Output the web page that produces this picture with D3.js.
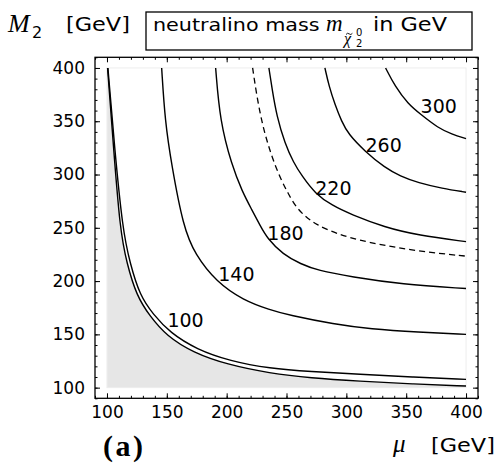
<!DOCTYPE html>
<html>
<head>
<meta charset="utf-8">
<script src="https://cdn.jsdelivr.net/npm/d3@7"></script>
<style>
  body { margin: 0; background: #fff; }
  text { font-family: "DejaVu Sans", sans-serif; fill: #000; }
  .serif { font-family: "Liberation Serif", "DejaVu Serif", serif; }
</style>
</head>
<body>
<svg id="chart" width="502" height="469"></svg>
<script>
// traced contour lines, points are [mu, M2] in GeV
var cLow = [[100.5,400],[105.3,328],[110.9,248],[116.5,217],[124.8,186],[135.9,167],[149.9,148.4],[172.1,132.8],[200,121.8],[236,113.5],[270,109],[311,106],[355,103.5],[400,101.5]];
var c100 = [[100.8,400],[106.1,328],[113.1,248],[119.2,217],[127.6,186],[138.7,168.7],[152.6,151.6],[174.9,135.9],[202.8,125],[236,118],[270,115],[311,112.5],[355,110],[400,107.8]];
var c140 = [[145.7,400],[148.5,350],[154,309],[163.7,251],[173.5,225],[191.6,199],[213.9,182],[236,173],[252,168],[290,159.5],[320,155],[360,152],[400,150]];
var c180 = [[190.8,400],[194.4,350],[204.2,309],[213,284],[221,267],[228,252],[234,240],[247,225],[262,216],[276,210],[304,204],[346,197],[400,193]];
var cDash = [[221.7,400],[225,375],[229.2,350],[234.5,328],[240.3,309],[246,294],[251,283],[257,271],[265,261],[275,253],[290,245],[318,236],[360,228],[400,223.4]];
var c220 = [[235.3,400],[238,380],[241.8,355],[248.7,329],[256,311],[262.7,299],[274,282],[288,271],[304,262.5],[332,250.5],[360,243],[400,237]];
var c260 = [[282.1,400],[285.5,383],[290.5,365.6],[296,350],[301.6,338],[315.5,321.8],[332.2,306.3],[345,298.5],[360,292.2],[380,287],[400,283.4]];
var c300 = [[332.8,400],[340.6,382.8],[351.7,366],[361.5,357],[376.8,343.5],[388,338],[400,333.7]];

// contour labels: value and where it sits [mu, M2]
var labelValues = [100, 140, 180, 220, 260, 300];
var labelPoints = [[150.5,156.5],[193,199.7],[234,239],[274,281],[316,321.5],[362,358]];

var majorTicks = [100, 150, 200, 250, 300, 350, 400];
var minorTicks = d3.range(90, 411, 10);

var svg = d3.select('#chart');

var x = d3.scaleLinear().domain([90, 410]).range([95, 478]);
var y = d3.scaleLinear().domain([90, 410]).range([398.3, 57.3]);

var line = d3.line()
    .x(function(d){ return x(d[0]); })
    .y(function(d){ return y(d[1]); })
    .curve(d3.curveBasis);

// grey excluded region under the lowest line
var greyPath = line(cLow) + 'L' + x(400) + ',' + y(100) + 'L' + x(100) + ',' + y(100) + 'L' + x(100) + ',' + y(400) + 'Z';
svg.append('path').attr('d', greyPath).attr('fill', '#e6e6e6');

// faint border of the computed region
svg.append('rect')
    .attr('x', x(100)).attr('y', y(400))
    .attr('width', x(400) - x(100)).attr('height', y(100) - y(400))
    .attr('fill', 'none').attr('stroke', '#ededed').attr('stroke-width', 1);

var solid = [cLow, c100, c140, c180, c220, c260, c300];
svg.selectAll('path.contour').data(solid).enter().append('path')
    .attr('class', 'contour')
    .attr('d', line)
    .attr('fill', 'none').attr('stroke', '#000').attr('stroke-width', 1.4);

svg.append('path').attr('d', line(cDash))
    .attr('fill', 'none').attr('stroke', '#000').attr('stroke-width', 1.3)
    .attr('stroke-dasharray', '6,4');

svg.selectAll('text.clabel').data(labelValues).enter().append('text')
    .attr('class', 'clabel')
    .attr('x', function(d, i){ return x(labelPoints[i][0]); })
    .attr('y', function(d, i){ return y(labelPoints[i][1]); })
    .style('font-size', '19px')
    .text(function(d){ return d; });

// ticks point inward on all four sides, labels only left and bottom
var sides = [
  {make: function(){ return d3.axisBottom(x); }, at: 'translate(0,398.3)', pad: 8},
  {make: function(){ return d3.axisTop(x); },    at: 'translate(0,57.3)',  pad: 0},
  {make: function(){ return d3.axisLeft(y); },   at: 'translate(95,0)',    pad: 10},
  {make: function(){ return d3.axisRight(y); },  at: 'translate(478,0)',   pad: 0}
];
sides.forEach(function(s){
  var gMinor = svg.append('g').attr('transform', s.at)
      .call(s.make().tickValues(minorTicks).tickSize(-2.5).tickFormat(''));
  gMinor.select('.domain').remove();
  gMinor.selectAll('text').remove();

  var gMajor = svg.append('g').attr('transform', s.at)
      .call(s.make().tickValues(majorTicks).tickSize(-5).tickPadding(s.pad).tickFormat(d3.format('d')));
  gMajor.select('.domain').remove();
  if(s.pad === 0) gMajor.selectAll('text').remove();
  gMajor.selectAll('text')
      .style('font-size', '17px')
      .style('font-family', '"DejaVu Sans", sans-serif')
      .attr('fill', '#000');
});
svg.selectAll('.tick line').attr('stroke', '#000').attr('stroke-width', 1);

svg.append('rect')
    .attr('x', 95).attr('y', 57.3).attr('width', 478 - 95).attr('height', 398.3 - 57.3)
    .attr('fill', 'none').attr('stroke', '#000').attr('stroke-width', 1.3);

// sans text in the original is a little wider than DejaVu, stretch it
function wideText(px, py, str, size){
  return svg.append('text')
      .attr('transform', 'translate(' + px + ',' + py + ') scale(1.12,1)')
      .style('font-size', size + 'px')
      .text(str);
}

// axis titles
svg.append('text').attr('class', 'serif').attr('x', 8).attr('y', 32)
    .style('font-size', '26px').style('font-style', 'italic').text('M');
svg.append('text').attr('x', 32).attr('y', 38).style('font-size', '16px').text('2');
wideText(66, 31, '[GeV]', 20);

svg.append('text').attr('class', 'serif').attr('x', 393).attr('y', 452)
    .style('font-size', '25px').style('font-style', 'italic').text('μ');
wideText(431, 452, '[GeV]', 20);

svg.append('text').attr('class', 'serif').attr('x', 103).attr('y', 456)
    .style('font-size', '30px').style('font-weight', 'bold')
    .style('letter-spacing', '2.5px').text('(a)');

// legend box
svg.append('rect').attr('x', 146).attr('y', 12).attr('width', 326).attr('height', 38)
    .attr('fill', '#fff').attr('stroke', '#000').attr('stroke-width', 1.3);
wideText(153, 31, 'neutralino mass', 18.5);
svg.append('text').attr('class', 'serif').attr('x', 326).attr('y', 31)
    .style('font-size', '23px').style('font-style', 'italic').text('m');
svg.append('text').attr('class', 'serif').attr('x', 344).attr('y', 44)
    .style('font-size', '16px').style('font-style', 'italic').text('χ');
// tilde over chi
svg.append('path').attr('d', 'M346,34.5 q1.5,-2.2 3.2,-0.6 q1.7,1.6 3.2,-0.6')
    .attr('fill', 'none').attr('stroke', '#000').attr('stroke-width', 0.9);
svg.append('text').attr('x', 356).attr('y', 36).style('font-size', '10px').text('0');
svg.append('text').attr('x', 356).attr('y', 47).style('font-size', '10px').text('2');
wideText(373, 31, 'in GeV', 20);
</script>
</body>
</html>
